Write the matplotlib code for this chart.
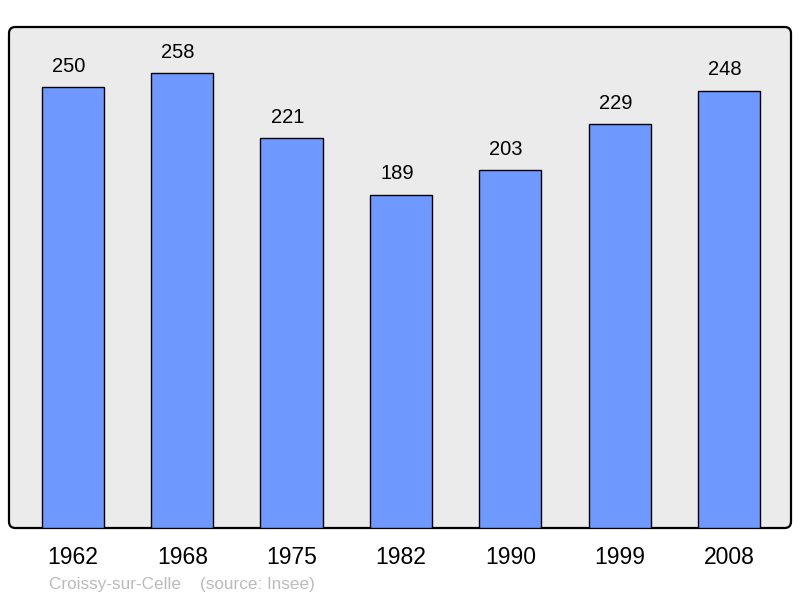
import matplotlib.pyplot as plt
from matplotlib.patches import FancyBboxPatch

years = ['1962', '1968', '1975', '1982', '1990', '1999', '2008']
population = [250, 258, 221, 189, 203, 229, 248]
source_text = 'Croissy-sur-Celle    (source: Insee)'

plt.rcParams['font.family'] = ['Liberation Sans', 'DejaVu Sans']

fig = plt.figure(figsize=(8, 5.98), dpi=100)
ax = fig.add_axes([9 / 800, 70 / 598, 782 / 800, 501 / 598])
ax.set_facecolor('none')
ax.set_zorder(1)

# rounded grey panel behind the bars
panel = FancyBboxPatch((9 / 800, 70 / 598), 782 / 800, 501 / 598,
                       boxstyle='round,pad=0,rounding_size=0.008',
                       mutation_aspect=800 / 598,
                       transform=fig.transFigure, facecolor='#ebebeb',
                       edgecolor='black', linewidth=1.6, zorder=-1)
fig.patches.append(panel)

x = range(len(years))
ax.bar(x, population, width=0.57, color='#7099ff', edgecolor='black',
       linewidth=1.0, zorder=2)

for i, v in enumerate(population):
    ax.annotate(str(v), (i, v), xytext=(-3, 11), textcoords='offset points',
                ha='center', va='baseline', fontsize=14.5, color='black')

ax.set_xlim(-0.585, 6.567)
ax.set_ylim(0, 284)
for s in ax.spines.values():
    s.set_visible(False)
ax.set_yticks([])
ax.set_xticks(list(x))
ax.set_xticklabels(years, fontsize=16.5)
ax.tick_params(axis='x', length=0, pad=13)

fig.text(49 / 800, 1 - 584 / 598, source_text, fontsize=12.3, color='#bbbbbb',
         ha='left', va='center')

fig.savefig('out.png', dpi=100)
